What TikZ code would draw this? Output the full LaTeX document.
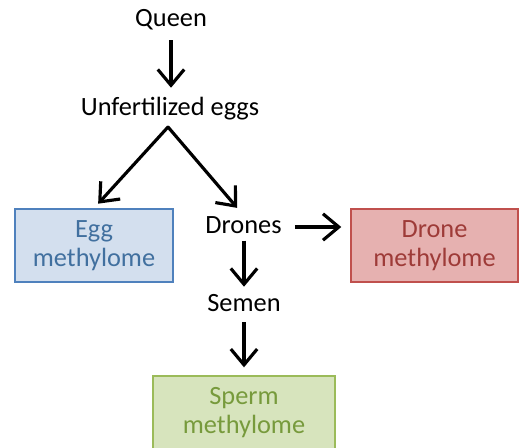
\documentclass[tikz,border=0pt]{standalone}
\usepackage{fontspec}
\setmainfont{Carlito}
\usetikzlibrary{arrows.meta, positioning}

\definecolor{eggfill}{HTML}{D3DFEE}
\definecolor{eggline}{HTML}{4F81BD}
\definecolor{eggtext}{HTML}{41709F}
\definecolor{dronefill}{HTML}{E6B1B0}
\definecolor{droneline}{HTML}{C0504D}
\definecolor{dronetext}{HTML}{9E3B38}
\definecolor{spermfill}{HTML}{D7E4BD}
\definecolor{spermline}{HTML}{9BBB59}
\definecolor{spermtext}{HTML}{779A3C}

\tikzset{
  word/.style={font=\fontsize{15}{16.5}\selectfont, inner sep=0pt, text height=10pt, text depth=3pt},
  mbox/.style={draw, line width=0.9pt, font=\fontsize{15}{16.5}\selectfont, align=center, minimum height=1.46cm, inner sep=0pt},
  flow/.style={-{Straight Barb[length=9pt,width=15pt]}, line width=1.8pt}
}

\begin{document}
\begin{tikzpicture}[x=0.02cm, y=-0.02cm]
\useasboundingbox (0, 0) rectangle (519, 447);
\node [word] (queen) at (171, 20) {Queen};
\node [word] (eggs) at (170, 109) {Unfertilized eggs};
\coordinate (split) at (168, 127);
\node [mbox, fill=eggfill, draw=eggline, text=eggtext, minimum width=3.16cm] (eggm) at (94, 245.5) {Egg\\methylome};
\node [word] (drones) at (243.5, 227) {Drones};
\node [mbox, fill=dronefill, draw=droneline, text=dronetext, minimum width=3.34cm] (dronem) at (434.5, 245.5) {Drone\\methylome};
\node [word] (semen) at (244, 305) {Semen};
\node [mbox, fill=spermfill, draw=spermline, text=spermtext, minimum width=3.64cm] (spermm) at (244, 412.5) {Sperm\\methylome};

\draw [flow, shorten <=4.8pt, shorten >=5.4pt] (queen.south) -- (queen.south |- eggs.north);
\draw [flow, line cap=round, shorten >=3.5pt] (split) -- (eggm.north);
\draw [flow, line cap=round, shorten >=5.5pt] (split) -- (drones.north);
\draw [flow, shorten <=7.4pt, shorten >=5.1pt] (drones.east) -- (drones.east -| dronem.west);
\draw [flow, shorten <=1pt, shorten >=3.7pt] (semen.north |- drones.south) -- (semen.north);
\draw [flow, shorten <=3.1pt, shorten >=4.5pt] (semen.south) -- (semen.south |- spermm.north);
\end{tikzpicture}
\end{document}
